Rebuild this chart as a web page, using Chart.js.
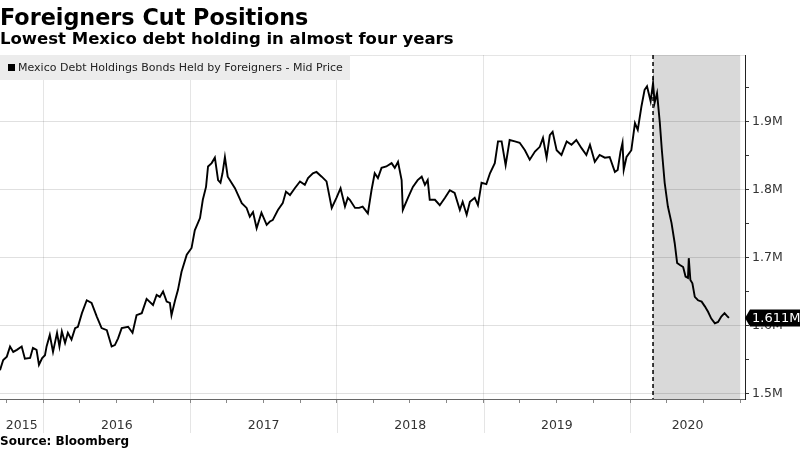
<!DOCTYPE html>
<html>
<head>
<meta charset="utf-8">
<script src="https://cdn.jsdelivr.net/npm/chart.js"></script>
<style>
  body { margin: 0; background: #fff; }
  #wrap { position: relative; width: 800px; height: 450px; font-family: "DejaVu Sans", sans-serif; color: #000; }
  #title { position: absolute; left: 0; top: 6px; font-size: 22.3px; font-weight: bold; line-height: 22px; white-space: nowrap; }
  #subtitle { position: absolute; left: 0; top: 31px; font-size: 16.5px; font-weight: bold; line-height: 16.5px; white-space: nowrap; }
  #legend { position: absolute; left: 0; top: 55px; width: 350px; height: 25px; background: #ececec; display: flex; align-items: center; font-size: 11px; color: #222; white-space: nowrap; }
  #legend .sq { width: 7px; height: 7px; background: #000; margin: 0 3px 0 8px; }
  #source { position: absolute; left: 0; top: 435px; font-size: 12px; font-weight: bold; line-height: 12px; white-space: nowrap; }
  canvas { position: absolute; left: 0; top: 0; }
</style>
</head>
<body>
<div id="wrap">
  <canvas id="chart" width="800" height="450"></canvas>
  <div id="title">Foreigners Cut Positions</div>
  <div id="subtitle">Lowest Mexico debt holding in almost four years</div>
  <div id="legend"><div class="sq"></div>Mexico Debt Holdings Bonds Held by Foreigners - Mid Price</div>
  <div id="source">Source: Bloomberg</div>
</div>
<script>
// Mexico debt holdings (bonds held by foreigners), millions
const dates = [
  '2015-09-15','2015-09-23','2015-10-02','2015-10-10','2015-10-18','2015-10-27','2015-11-08','2015-11-16','2015-11-29','2015-12-06',
  '2015-12-15','2015-12-21','2015-12-29','2016-01-05','2016-01-09','2016-01-17','2016-01-25','2016-02-04','2016-02-10','2016-02-16',
  '2016-02-24','2016-03-02','2016-03-11','2016-03-20','2016-03-27','2016-04-06','2016-04-18','2016-04-30','2016-05-13','2016-05-25',
  '2016-06-07','2016-06-19','2016-06-27','2016-07-05','2016-07-14','2016-07-30','2016-08-10','2016-08-20','2016-09-02','2016-09-14',
  '2016-09-30','2016-10-09','2016-10-17','2016-10-25','2016-11-03','2016-11-11','2016-11-15','2016-11-24','2016-12-01','2016-12-10',
  '2016-12-23','2017-01-04','2017-01-12','2017-01-25','2017-02-01','2017-02-09','2017-02-14','2017-02-23','2017-03-03','2017-03-11',
  '2017-03-17','2017-03-22','2017-03-28','2017-04-04','2017-04-22','2017-05-09','2017-05-21','2017-05-29','2017-06-06','2017-06-15',
  '2017-06-27','2017-07-10','2017-07-18','2017-07-25','2017-08-07','2017-08-19','2017-08-27','2017-09-06','2017-09-18','2017-10-01',
  '2017-10-13','2017-10-21','2017-11-02','2017-11-11','2017-11-24','2017-12-06','2017-12-19','2017-12-31','2018-01-10','2018-01-21',
  '2018-01-28','2018-02-02','2018-02-15','2018-02-25','2018-03-06','2018-03-19','2018-03-28','2018-04-05','2018-04-13','2018-04-22',
  '2018-05-04','2018-05-17','2018-05-25','2018-06-02','2018-06-11','2018-06-14','2018-06-27','2018-07-09','2018-07-21','2018-07-31',
  '2018-08-08','2018-08-15','2018-08-20','2018-09-02','2018-09-14','2018-09-27','2018-10-09','2018-10-21','2018-11-03','2018-11-10',
  '2018-11-20','2018-11-28','2018-12-10','2018-12-18','2018-12-27','2019-01-08','2019-01-17','2019-01-29','2019-02-06','2019-02-15',
  '2019-02-25','2019-03-07','2019-03-20','2019-04-01','2019-04-14','2019-04-26','2019-05-09','2019-05-21','2019-05-29','2019-06-07',
  '2019-06-15','2019-06-22','2019-07-02','2019-07-14','2019-07-27','2019-08-08','2019-08-20','2019-09-02','2019-09-14','2019-09-23',
  '2019-10-05','2019-10-17','2019-10-30','2019-11-11','2019-11-24','2019-12-01','2019-12-08','2019-12-13','2019-12-16','2019-12-23',
  '2020-01-04','2020-01-13','2020-01-20','2020-01-29','2020-02-06','2020-02-12','2020-02-21','2020-02-27','2020-03-02','2020-03-08',
  '2020-03-15','2020-03-20','2020-03-27','2020-04-04','2020-04-13','2020-04-21','2020-04-27','2020-05-04','2020-05-12','2020-05-18',
  '2020-05-24','2020-05-26','2020-05-30','2020-06-04','2020-06-10','2020-06-18','2020-06-27','2020-07-05','2020-07-13','2020-07-21',
  '2020-07-30','2020-08-07','2020-08-15','2020-08-23','2020-08-29','2020-09-03'
];
const holdingsM = [
  1.534,1.549,1.554,1.569,1.561,1.564,1.569,1.551,1.552,1.567,
  1.564,1.542,1.552,1.556,1.569,1.586,1.561,1.589,1.569,1.591,
  1.574,1.589,1.579,1.596,1.598,1.618,1.637,1.633,1.613,1.596,
  1.593,1.569,1.571,1.581,1.596,1.598,1.589,1.615,1.618,1.639,
  1.630,1.645,1.642,1.650,1.635,1.633,1.615,1.637,1.652,1.679,
  1.704,1.714,1.740,1.758,1.785,1.804,1.834,1.839,1.847,1.814,
  1.810,1.824,1.848,1.819,1.802,1.780,1.773,1.760,1.767,1.743,
  1.766,1.748,1.753,1.755,1.770,1.780,1.797,1.792,1.802,1.812,
  1.807,1.817,1.824,1.826,1.819,1.812,1.773,1.788,1.802,1.775,
  1.788,1.785,1.773,1.773,1.775,1.765,1.799,1.824,1.817,1.832,
  1.834,1.839,1.832,1.841,1.814,1.770,1.788,1.804,1.814,1.819,
  1.807,1.814,1.785,1.785,1.777,1.788,1.799,1.795,1.770,1.782,
  1.763,1.782,1.788,1.777,1.810,1.808,1.824,1.839,1.871,1.871,
  1.836,1.873,1.871,1.869,1.858,1.844,1.856,1.863,1.876,1.847,
  1.880,1.885,1.858,1.851,1.871,1.866,1.873,1.861,1.851,1.866,
  1.841,1.851,1.847,1.848,1.826,1.829,1.856,1.869,1.829,1.848,
  1.858,1.898,1.888,1.922,1.947,1.952,1.930,1.957,1.928,1.942,
  1.898,1.858,1.810,1.775,1.751,1.721,1.692,1.689,1.686,1.672,
  1.670,1.699,1.667,1.662,1.642,1.637,1.635,1.628,1.620,1.610,
  1.603,1.605,1.613,1.618,1.614,1.611
];
const lastLabel = '1.611M';
const yTickValues = [1.5, 1.55, 1.6, 1.65, 1.7, 1.75, 1.8, 1.85, 1.9, 1.95];
const years = [2015, 2016, 2017, 2018, 2019, 2020];
const xMinDate = '2015-09-15';
const xMaxDate = '2020-10-13';
const shadeFrom = '2020-02-27';
const shadeTo = '2020-10-01';

const t = s => Date.parse(s + 'T00:00:00Z');
const xMin = t(xMinDate), xMax = t(xMaxDate);

const yearStarts = years.map(y => Date.UTC(y, 0, 1)).filter(v => v > xMin && v < xMax);
const quarterTicks = [];
years.forEach(y => [0, 3, 6, 9].forEach(m => {
  const v = Date.UTC(y, m, 1);
  if (v > xMin && v < xMax) quarterTicks.push(v);
}));
const labelTicks = {};
years.forEach(y => {
  const a = Math.max(xMin, Date.UTC(y, 0, 1)), b = Math.min(xMax, Date.UTC(y + 1, 0, 1));
  labelTicks[(a + b) / 2] = String(y);
});
const isYearStart = v => yearStarts.includes(v);
const isLabel = v => labelTicks[v] !== undefined;
const isMajorY = v => Math.abs(v * 10 - Math.round(v * 10)) < 1e-6;

const points = dates.map((d, i) => ({ x: t(d), y: holdingsM[i] }));

const decor = {
  id: 'decor',
  beforeDraw(chart) {
    const { ctx, chartArea: a, scales: { x } } = chart;
    ctx.save();
    const x0 = x.getPixelForValue(t(shadeFrom)), x1 = x.getPixelForValue(t(shadeTo));
    ctx.fillStyle = '#d9d9d9';
    ctx.fillRect(x0, a.top, x1 - x0, a.bottom - a.top);
    ctx.strokeStyle = 'rgba(0,0,0,0.1)';
    ctx.lineWidth = 1;
    ctx.beginPath();
    ctx.moveTo(0, a.top + 0.5);
    ctx.lineTo(a.right, a.top + 0.5);
    // year separators below the axis
    yearStarts.forEach(v => {
      const px = Math.round(x.getPixelForValue(v)) + 0.5;
      ctx.moveTo(px, a.bottom);
      ctx.lineTo(px, a.bottom + 34);
    });
    ctx.stroke();
    ctx.restore();
  },
  beforeDatasetsDraw(chart) {
    const { ctx, chartArea: a, scales: { x } } = chart;
    const px = x.getPixelForValue(t(shadeFrom));
    ctx.save();
    ctx.strokeStyle = '#000';
    ctx.lineWidth = 1.5;
    ctx.setLineDash([4, 3]);
    ctx.beginPath();
    ctx.moveTo(px, a.top);
    ctx.lineTo(px, a.bottom);
    ctx.stroke();
    ctx.restore();
  },
  afterDatasetsDraw(chart) {
    const { ctx, chartArea: a, scales: { y } } = chart;
    const py = y.getPixelForValue(holdingsM[holdingsM.length - 1]);
    const left = a.right, h = 8.5;
    ctx.save();
    ctx.fillStyle = '#000';
    ctx.beginPath();
    ctx.moveTo(left, py);
    ctx.lineTo(left + 5, py - h);
    ctx.lineTo(800, py - h);
    ctx.lineTo(800, py + h);
    ctx.lineTo(left + 5, py + h);
    ctx.closePath();
    ctx.fill();
    ctx.fillStyle = '#fff';
    ctx.font = '13px "DejaVu Sans"';
    ctx.textBaseline = 'middle';
    ctx.fillText(lastLabel, left + 7, py + 1);
    ctx.restore();
  }
};

new Chart(document.getElementById('chart'), {
  type: 'line',
  data: {
    datasets: [{
      label: 'Mexico Debt Holdings Bonds Held by Foreigners - Mid Price',
      data: points,
      borderColor: '#000',
      borderWidth: 1.9,
      pointRadius: 0,
      tension: 0,
      fill: false
    }]
  },
  options: {
    responsive: false,
    animation: false,
    devicePixelRatio: 1,
    layout: { padding: { top: 55, left: 0, right: 0, bottom: 0 } },
    plugins: { legend: { display: false }, tooltip: { enabled: false } },
    scales: {
      x: {
        type: 'linear',
        min: xMin,
        max: xMax,
        afterBuildTicks: s => {
          s.ticks = quarterTicks.concat(Object.keys(labelTicks).map(Number))
            .sort((p, q) => p - q).map(v => ({ value: v }));
        },
        afterFit: s => { s.height = 51; s.paddingLeft = 0; s.paddingRight = 0; },
        border: { color: '#666' },
        grid: {
          color: c => (c.tick && isYearStart(c.tick.value)) ? 'rgba(0,0,0,0.1)' : 'rgba(0,0,0,0)',
          tickColor: c => (c.tick && isLabel(c.tick.value)) ? 'rgba(0,0,0,0)' : '#888',
          tickLength: 4
        },
        ticks: {
          autoSkip: false,
          maxRotation: 0,
          padding: 15,
          color: '#333',
          font: { family: 'DejaVu Sans', size: 12.5 },
          callback: v => labelTicks[v] || ''
        }
      },
      y: {
        position: 'right',
        min: 1.4916,
        max: 1.9982,
        afterBuildTicks: s => { s.ticks = yTickValues.map(v => ({ value: v })); },
        afterFit: s => { s.width = 55; },
        border: { color: '#222' },
        grid: {
          color: c => (c.tick && isMajorY(c.tick.value)) ? 'rgba(0,0,0,0.12)' : 'rgba(0,0,0,0)',
          tickColor: '#333',
          tickLength: 4
        },
        ticks: {
          padding: 3,
          color: '#333',
          font: { family: 'DejaVu Sans', size: 12.5 },
          callback: v => isMajorY(v) ? v.toFixed(1) + 'M' : ''
        }
      }
    }
  },
  plugins: [decor]
});
</script>
</body>
</html>
